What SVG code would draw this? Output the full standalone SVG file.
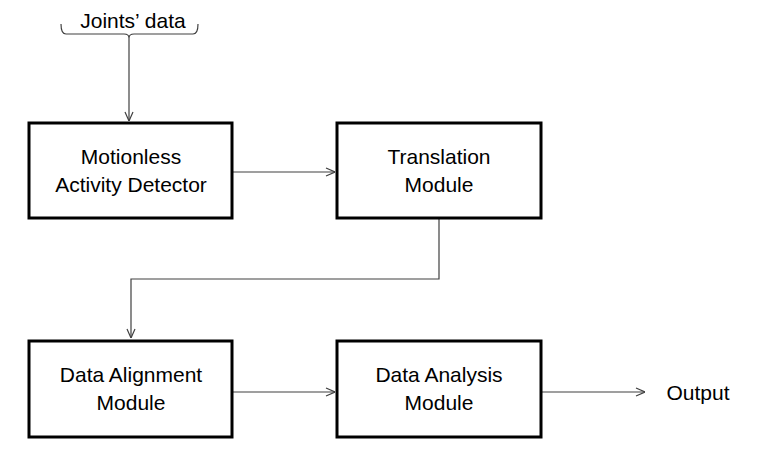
<svg xmlns="http://www.w3.org/2000/svg" width="760" height="458" viewBox="0 0 760 458">
  <style>
    .box { fill: #ffffff; stroke: #000000; stroke-width: 3; }
    .lbl { font-family: "Liberation Sans", Arial, sans-serif; font-size: 21px; fill: #000000; text-anchor: middle; }
    .wire { fill: none; stroke: #404040; stroke-width: 1.2; }
  </style>
  <defs>
    <marker id="arrow" viewBox="0 0 10 10" refX="10" refY="5" markerWidth="10" markerHeight="10" markerUnits="userSpaceOnUse" orient="auto">
      <path d="M1,1 L10,5 L1,9" fill="none" stroke="#404040" stroke-width="1.2"/>
    </marker>
  </defs>

  <rect width="760" height="458" fill="#ffffff"/>

  <!-- input label with brace -->
  <g id="input">
    <text class="lbl" x="133" y="28">Joints’ data</text>
    <path class="wire" d="M61,24 Q61,34 66,34 L124,34 Q129,34 129,38 Q129,34 134,34 L193,34 Q198,34 198,24"/>
  </g>

  <!-- connectors -->
  <g id="connectors">
    <line class="wire" x1="129" y1="38" x2="129" y2="121" marker-end="url(#arrow)"/>
    <line class="wire" x1="232" y1="172" x2="335" y2="172" marker-end="url(#arrow)"/>
    <polyline class="wire" points="439,219 439,279 131,279 131,338" marker-end="url(#arrow)"/>
    <line class="wire" x1="232" y1="392" x2="335" y2="392" marker-end="url(#arrow)"/>
    <line class="wire" x1="541" y1="392" x2="645" y2="392" marker-end="url(#arrow)"/>
  </g>

  <g id="motionless-detector">
    <rect class="box" x="29" y="123" width="203" height="95"/>
    <text class="lbl" x="131" y="164">Motionless</text>
    <text class="lbl" x="131" y="192">Activity Detector</text>
  </g>

  <g id="translation-module">
    <rect class="box" x="337" y="123" width="204" height="95"/>
    <text class="lbl" x="439" y="164">Translation</text>
    <text class="lbl" x="439" y="192">Module</text>
  </g>

  <g id="data-alignment-module">
    <rect class="box" x="29" y="341" width="203" height="96"/>
    <text class="lbl" x="131" y="382">Data Alignment</text>
    <text class="lbl" x="131" y="410">Module</text>
  </g>

  <g id="data-analysis-module">
    <rect class="box" x="337" y="341" width="204" height="96"/>
    <text class="lbl" x="439" y="382">Data Analysis</text>
    <text class="lbl" x="439" y="410">Module</text>
  </g>

  <g id="output">
    <text class="lbl" x="698" y="400">Output</text>
  </g>
</svg>
